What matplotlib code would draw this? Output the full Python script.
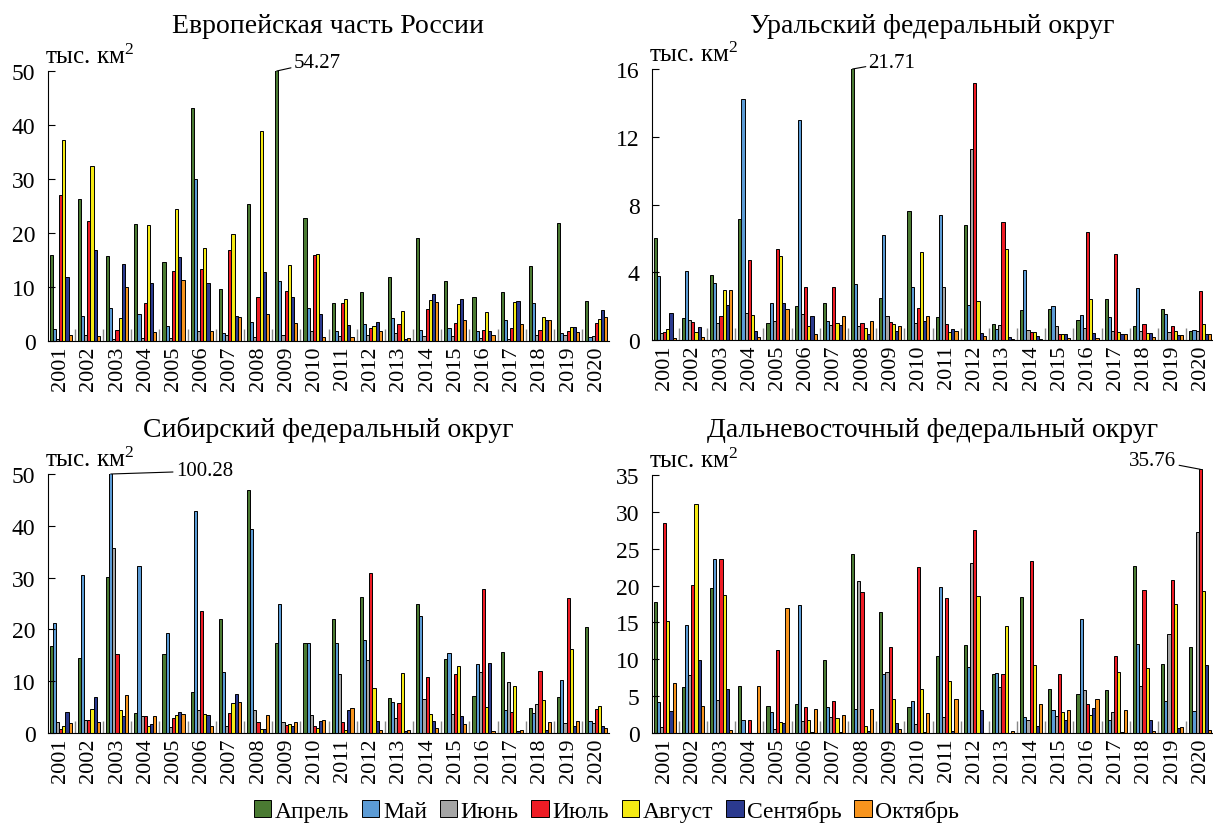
import numpy as np
import matplotlib
matplotlib.use("Agg")
import matplotlib.pyplot as plt
import matplotlib.transforms as mtransforms
from matplotlib.patches import Patch

plt.rcParams["font.family"] = "serif"
plt.rcParams["font.serif"] = ["Liberation Serif", "Times New Roman", "DejaVu Serif"]
plt.rcParams["mathtext.fontset"] = "custom"
plt.rcParams["mathtext.rm"] = "serif"
plt.rcParams["mathtext.it"] = "serif"

# -----------------------------
# Data (тыс. км2), rows = months Apr..Oct, columns = 2001..2020
# -----------------------------
years = [str(y) for y in range(2001, 2021)]
months = ["Апрель", "Май", "Июнь", "Июль", "Август", "Сентябрь", "Октябрь"]
colors = ["#4a7a32", "#5b9bd5", "#a5a5a5", "#ee1c25", "#f5ea14", "#2b3a8f", "#f7941d"]

euro = [
    [16.0, 26.3, 15.8, 21.7, 14.7, 43.1, 9.6, 25.3, 54.27, 22.7, 7.1, 9.1, 11.9, 19.0, 11.2, 8.2, 9.1, 13.8, 21.8, 7.4],
    [2.2, 4.7, 6.2, 5.0, 2.8, 30.0, 1.4, 3.5, 11.1, 6.1, 1.8, 3.1, 4.2, 2.0, 2.5, 1.9, 3.8, 7.0, 1.4, 0.7],
    [0.3, 1.2, 0.4, 0.6, 0.5, 1.8, 1.2, 0.7, 1.1, 1.8, 1.0, 1.2, 1.4, 1.0, 1.0, 0.6, 0.4, 1.2, 1.2, 1.0],
    [27.0, 22.3, 2.0, 7.1, 13.0, 13.3, 16.8, 8.2, 9.2, 16.0, 7.0, 2.4, 3.1, 6.0, 3.4, 2.1, 2.5, 2.1, 1.8, 3.4],
    [37.3, 32.5, 4.2, 21.4, 24.5, 17.3, 19.9, 38.8, 14.0, 16.1, 7.7, 2.8, 5.6, 7.6, 6.8, 5.4, 7.2, 4.5, 2.6, 4.0],
    [11.8, 16.8, 14.3, 10.7, 15.5, 10.8, 4.6, 12.8, 8.2, 5.0, 2.9, 3.6, 0.3, 8.7, 7.7, 1.9, 7.5, 3.8, 2.6, 5.8],
    [1.2, 1.0, 10.0, 1.6, 11.3, 1.9, 4.4, 5.0, 3.3, 0.8, 0.8, 1.8, 0.5, 7.3, 3.8, 1.2, 3.1, 3.8, 1.7, 4.5],
]

ural = [
    [6.04, 1.3, 3.85, 7.15, 1.0, 2.0, 2.2, 21.71, 2.5, 7.6, 1.35, 6.8, 0.95, 1.75, 1.85, 1.2, 2.4, 0.85, 1.85, 0.55],
    [3.76, 4.1, 3.37, 14.2, 2.2, 13.0, 1.1, 3.3, 6.2, 3.1, 7.4, 2.05, 0.65, 4.15, 2.0, 1.45, 1.35, 3.05, 1.55, 0.6],
    [0.4, 1.2, 1.0, 1.6, 1.15, 1.55, 0.9, 0.8, 1.4, 1.0, 3.1, 11.3, 0.9, 0.6, 0.8, 0.7, 0.55, 0.55, 0.5, 0.55],
    [0.45, 1.05, 1.4, 4.75, 5.4, 3.1, 3.1, 1.0, 1.05, 1.9, 0.95, 15.2, 6.95, 0.5, 0.35, 6.35, 5.05, 0.95, 0.85, 2.9],
    [0.65, 0.45, 2.95, 1.5, 4.95, 0.8, 1.0, 0.7, 0.95, 5.2, 0.45, 2.3, 5.4, 0.45, 0.35, 2.4, 0.5, 0.4, 0.55, 0.95],
    [1.57, 0.75, 2.05, 0.55, 2.2, 1.4, 0.9, 0.35, 0.55, 1.15, 0.65, 0.4, 0.2, 0.25, 0.35, 0.4, 0.35, 0.4, 0.3, 0.35],
    [0.1, 0.2, 2.95, 0.15, 1.85, 0.35, 1.4, 1.1, 0.8, 1.4, 0.55, 0.25, 0.05, 0.05, 0.1, 0.1, 0.35, 0.2, 0.3, 0.35],
]

sib = [
    [16.7, 14.4, 30.1, 3.8, 15.3, 7.9, 22.1, 47.0, 17.4, 17.4, 22.0, 26.2, 6.8, 24.9, 14.3, 7.2, 15.6, 4.8, 6.9, 20.4],
    [21.2, 30.5, 100.28, 32.2, 19.3, 42.8, 11.8, 39.3, 25.0, 17.4, 17.4, 18.0, 6.0, 22.6, 15.5, 13.4, 4.4, 3.9, 10.2, 2.3],
    [2.1, 2.6, 35.7, 3.3, 1.1, 4.4, 1.4, 4.4, 2.2, 3.4, 11.4, 14.0, 2.8, 6.5, 3.6, 11.8, 9.8, 5.6, 2.0, 1.9],
    [0.8, 2.6, 15.2, 3.3, 2.9, 23.5, 3.8, 2.2, 1.6, 1.4, 2.2, 30.8, 5.8, 10.9, 11.4, 27.8, 4.0, 12.0, 26.0, 4.6],
    [1.4, 4.6, 4.4, 1.4, 3.4, 3.7, 5.7, 0.7, 1.8, 0.9, 0.6, 8.6, 11.6, 3.6, 12.9, 5.0, 9.1, 6.4, 16.2, 5.2],
    [4.0, 7.0, 3.3, 1.8, 4.0, 3.4, 7.5, 0.8, 1.4, 2.3, 4.5, 2.4, 0.4, 2.3, 3.2, 13.5, 0.3, 0.6, 1.4, 1.4],
    [1.9, 2.2, 7.4, 3.3, 3.7, 1.4, 5.9, 3.4, 2.2, 2.6, 4.8, 0.6, 0.6, 1.0, 1.7, 0.4, 0.6, 2.1, 2.4, 1.0],
]

fareast = [
    [17.7, 6.2, 19.6, 6.4, 3.6, 3.9, 9.9, 24.3, 16.4, 3.5, 10.4, 11.9, 8.0, 18.5, 5.9, 5.3, 5.8, 22.6, 9.3, 11.6],
    [4.2, 14.6, 23.6, 1.7, 2.8, 17.4, 3.5, 3.3, 8.0, 4.3, 19.8, 9.0, 8.2, 2.2, 3.1, 15.4, 1.8, 12.1, 4.3, 3.0],
    [0.8, 7.9, 4.5, 0.05, 0.6, 1.6, 2.2, 20.6, 8.3, 1.2, 2.2, 23.0, 6.2, 1.8, 2.3, 5.8, 2.8, 6.4, 13.4, 27.2],
    [28.5, 20.1, 23.6, 1.7, 11.2, 3.5, 4.3, 19.1, 11.7, 22.5, 18.3, 27.5, 8.0, 23.3, 8.0, 3.9, 10.5, 19.4, 20.8, 35.76],
    [15.2, 31.1, 18.7, 0.0, 1.5, 1.8, 2.0, 0.9, 4.6, 5.9, 7.1, 18.6, 14.5, 9.2, 2.9, 2.4, 8.3, 8.8, 17.5, 19.3],
    [3.0, 9.9, 6.0, 0.0, 1.3, 0.2, 0.1, 0.3, 1.3, 0.2, 0.3, 3.1, 0.0, 1.0, 1.7, 3.4, 0.1, 1.8, 0.7, 9.2],
    [6.8, 3.6, 0.4, 6.4, 17.0, 3.2, 2.5, 3.2, 0.5, 2.7, 4.6, 0.0, 0.3, 3.9, 3.1, 4.6, 3.1, 0.3, 0.8, 0.4],
]

# -----------------------------
# Figure
# -----------------------------
W, H = 1213, 829
fig = plt.figure(figsize=(W / 100, H / 100), dpi=100)


def add_axes_px(left, right, top, bottom):
    return fig.add_axes([left / W, 1 - bottom / H, (right - left) / W, (bottom - top) / H])


panels = [
    # data, title, title baseline px, box (left, right, top, bottom), ylim, yticks, spine top, label
    (euro, "Европейская часть России", 33, (48, 609, 72, 342), 50, range(0, 51, 10), 50, (8, 0, (17, 9), "left")),
    (ural, "Уральский федеральный округ", 33, (652, 1213, 70, 341), 16, range(0, 17, 4), 16, (7, 0, (16, 7), "left")),
    (sib, "Сибирский федеральный округ", 437, (48, 609, 475, 734), 50, range(0, 51, 10), 50, (2, 1, (65, 3), "left")),
    (fareast, "Дальневосточный федеральный округ", 437, (652, 1213, 470, 734), 35.8, range(0, 36, 5), 35, (19, 3, (-24, 9), "right")),
]

bw = 0.112
x = np.arange(len(years))

for data, title, ty, box, ytop, yticks, spine_top, lab in panels:
    ax = add_axes_px(*box)
    for m in range(len(months)):
        ax.bar(x + (m - 3) * bw, data[m], width=bw, color=colors[m],
               edgecolor="black", linewidth=0.7)
    ax.set_xlim(-0.45, len(years) - 0.55)
    ax.set_ylim(0, ytop)
    ax.spines["top"].set_visible(False)
    ax.spines["right"].set_visible(False)
    ax.spines["left"].set_bounds(0, spine_top)
    ax.set_yticks(list(yticks))
    ax.set_xticks(x)
    ax.set_xticklabels(years, rotation=90, fontsize=16)
    ax.set_xticks(x[:-1] + 0.5, minor=True)
    ax.tick_params(axis="x", which="major", length=0, pad=3)
    ax.tick_params(axis="x", which="minor", direction="in", length=9, color="#888888", width=1)
    ax.tick_params(axis="y", direction="in", length=5, labelsize=17, pad=9)

    # units label above y-axis
    trans = mtransforms.blended_transform_factory(ax.transAxes, ax.transData)
    ax.annotate("тыс. км$^2$", xy=(0, spine_top), xycoords=trans,
                xytext=(-3, 8), textcoords="offset pixels",
                fontsize=18, ha="left", va="baseline", annotation_clip=False)
    # panel title
    fig.text(((box[0] + box[1]) / 2) / W, 1 - ty / H, title,
             fontsize=20, ha="center", va="baseline")

    # label for the out-of-range bar
    yi, mi, off, ha = lab
    val = data[mi][yi]
    ax.annotate(f"{val:.2f}", xy=(x[yi] + (mi - 3) * bw, min(val, ytop)),
                xytext=off, textcoords="offset pixels", fontsize=15,
                ha=ha, va="center", annotation_clip=False,
                arrowprops=dict(arrowstyle="-", lw=0.8, color="black",
                                shrinkA=0, shrinkB=0))

handles = [Patch(facecolor=c, edgecolor="black", linewidth=0.7) for c in colors]
fig.legend(handles, months, loc="center", bbox_to_anchor=(0.5, 1 - 812 / H),
           ncol=7, frameon=False, fontsize=17, handlelength=0.75, handleheight=0.75,
           handletextpad=0.15, columnspacing=0.53, borderaxespad=0)

fig.savefig("out.png", dpi=100)
